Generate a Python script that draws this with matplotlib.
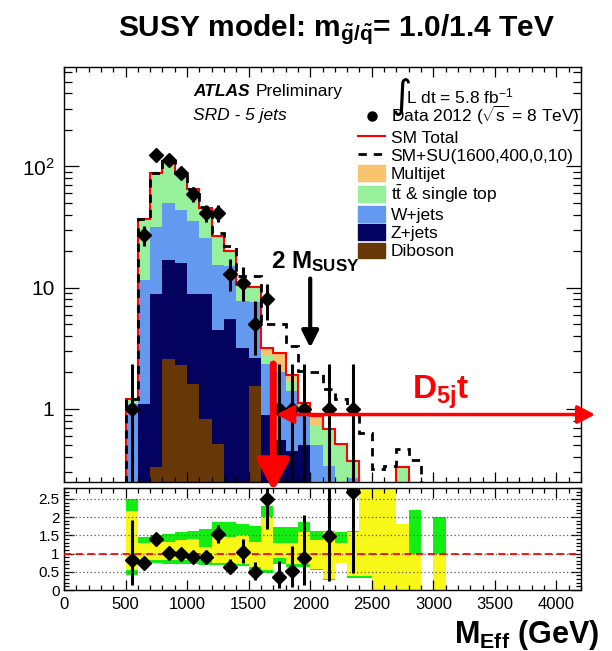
import numpy as np
import matplotlib
matplotlib.use("Agg")
import matplotlib.pyplot as plt
from matplotlib.lines import Line2D
from matplotlib.patches import Patch
from matplotlib.ticker import MultipleLocator, LogLocator, NullFormatter

plt.rcParams["font.family"] = ["Liberation Sans", "DejaVu Sans"]
plt.rcParams["mathtext.fontset"] = "custom"
plt.rcParams["mathtext.rm"] = "Liberation Sans"
plt.rcParams["mathtext.it"] = "Liberation Sans:italic"
plt.rcParams["mathtext.bf"] = "Liberation Sans:bold"

# M_eff bins (lower edges, GeV), 100 GeV wide
bin_low = [500, 600, 700, 800, 900, 1000, 1100, 1200, 1300, 1400, 1500, 1600, 1700,
           1800, 1900, 2000, 2100, 2200, 2300, 2400, 2500, 2600, 2700, 2800, 2900, 3000]
bin_width = 100

# background expectations per bin
diboson = [0, 0, 0.33, 2.6, 2.3, 1.6, 0.82, 0.51, 0, 0, 1.55, 0, 0.02,
           0.1, 0.05, 0, 0, 0, 0, 0, 0, 0, 0, 0, 0, 0]
zjets = [0, 1.1, 8.6, 14.4, 13.7, 7.3, 8.1, 4.0, 5.5, 3.2, 1.1, 0.9, 0.53,
         0.35, 0.45, 0.2, 0.12, 0.1, 0.12, 0, 0, 0, 0, 0, 0, 0]
wjets = [1.1, 10.5, 23, 33, 28, 26.4, 16.8, 11, 9.5, 4.5, 5.0, 1.45, 1.45,
         0.95, 0.45, 0.3, 0.22, 0.15, 0.15, 0.02, 0, 0, 0, 0, 0, 0]
ttbar = [0.12, 25.4, 57, 60, 45, 29, 20, 11, 5, 2.6, 2.4, 0.4, 0,
         0.3, 0.12, 0.22, 0.34, 0.26, 0.10, 0.02, 0.03, 0.03, 0.33, 0.15, 0, 0.08]
multijet = [0, 0, 0.1, 0, 0, 0.2, 0, 0.2, 0.2, 0.2, 0.15, 0.45, 0.9,
            0.22, 0.06, 0.16, 0, 0, 0, 0, 0, 0, 0, 0, 0, 0]

# SM + signal SU(1600,400,0,10)
sm_su = [1.22, 37, 89, 110, 89, 64.5, 46, 28.3, 22, 12.4, 12.4, 5.0, 5.0,
         3.3, 2.05, 2.0, 1.45, 1.2, 1.0, 0.63, 0.32, 0.34, 0.47, 0.38, 0.05, 0.08]

# data 2012 and its error bars
data = [1, 27, 125, 112, 89, 59, 41, 41, 13, 11, 5, 8, 1,
        1, 1, 0, 1, 0, 1, 0, 0, 0, 0, 0, 0, 0]
data_err_lo = [0.83, 5.0, 11, 10.5, 9.4, 7.7, 6.4, 6.4, 3.6, 3.3, 2.2, 2.6, 0.83,
               0.83, 0.83, 0, 0.83, 0, 0.83, 0, 0, 0, 0, 0, 0, 0]
data_err_hi = [1.33, 5.5, 11.5, 11, 9.9, 8.2, 6.9, 6.9, 4.1, 3.8, 2.7, 2.8, 1.33,
               1.33, 1.33, 0, 1.33, 0, 1.33, 0, 0, 0, 0, 0, 0, 0]

# uncertainty bands in the ratio panel
green_lo = [0.40, 0.74, 0.74, 0.72, 0.71, 0.71, 0.68, 0.68, 0.65, 0.65, 0.52, 0.47, 0.70,
            0.62, 0.62, 0.55, 0.28, 0.74, 0.32, 0.32, 0, 0, 0, 0, np.nan, 0]
green_hi = [2.50, 1.45, 1.50, 1.54, 1.59, 1.63, 1.68, 1.87, 1.87, 1.81, 1.77, 2.30, 1.72,
            1.72, 1.86, 1.62, 1.62, 1.60, 1.62, 3, 3, 3, 1.81, 2.19, np.nan, 2.0]
yellow_lo = [0.55, 0.83, 0.83, 0.82, 0.82, 0.83, 0.83, 0.74, 0.74, 0.72, 0.63, 0.56, 0.87,
             0.70, 0.71, 0.58, 0.30, 0.74, 0.38, 0.38, 0, 0, 0, 0, np.nan, 0]
yellow_hi = [2.17, 1.29, 1.32, 1.32, 1.36, 1.41, 1.19, 1.45, 1.45, 1.50, 1.32, 2.00, 1.28,
             1.28, 1.59, 1.37, 1.59, 1.30, 1.60, 3, 3, 3, 1.81, 1.0, np.nan, 1.0]

colors = {
    "Multijet": "#f9c46e",
    "ttbar": "#97f09a",
    "W+jets": "#6499f0",
    "Z+jets": "#03035f",
    "Diboson": "#673707",
}

edges = np.append(bin_low, bin_low[-1] + bin_width)
centers = np.array(bin_low) + bin_width / 2
floor = 1e-3

layers = [diboson, zjets, wjets, ttbar, multijet]
layer_colors = [colors["Diboson"], colors["Z+jets"], colors["W+jets"],
                colors["ttbar"], colors["Multijet"]]
cumulative = np.cumsum(np.array(layers, dtype=float), axis=0)
sm_total = cumulative[-1]

fig = plt.figure(figsize=(6.12, 6.51), dpi=100)
ax = fig.add_axes([0.1046, 0.2596, 0.8448, 0.6375])
rax = fig.add_axes([0.1046, 0.0937, 0.8448, 0.1567])

# stacked backgrounds, drawn from the top of the stack downwards
for cum, col in reversed(list(zip(cumulative, layer_colors))):
    ax.stairs(np.maximum(cum, floor), edges, baseline=floor, fill=True,
              color=col, lw=0, zorder=1)

ax.stairs(np.maximum(sm_total, floor), edges, baseline=floor, color="red",
          lw=1.5, zorder=3)
ax.stairs(np.maximum(sm_su, floor), edges, baseline=floor, color="black",
          lw=2.0, ls=(0, (3, 2.5)), zorder=4)

data = np.array(data, dtype=float)
has_data = data > 0
ax.errorbar(centers[has_data], data[has_data],
            yerr=[np.array(data_err_lo)[has_data], np.array(data_err_hi)[has_data]],
            fmt="D", color="black", ms=7, elinewidth=2.2, capsize=0, zorder=6)

ax.set_yscale("log")
ax.set_xlim(0, 4200)
ax.set_ylim(0.25, 660)
ax.set_yticks([1, 10, 100], labels=["1", "10", "10$^{2}$"])
ax.yaxis.set_minor_locator(LogLocator(base=10, subs=np.arange(2, 10)))
ax.yaxis.set_minor_formatter(NullFormatter())
ax.xaxis.set_major_locator(MultipleLocator(500))
ax.xaxis.set_minor_locator(MultipleLocator(100))
ax.tick_params(axis="x", which="both", labelbottom=False)

for a in (ax, rax):
    a.tick_params(which="both", direction="in", top=True, right=True, width=0.9)
    a.tick_params(axis="x", which="major", length=7)
    a.tick_params(axis="x", which="minor", length=3.5)
    for s in a.spines.values():
        s.set_linewidth(1.0)
ax.tick_params(axis="y", which="major", length=11, labelsize=15, pad=7)
ax.tick_params(axis="y", which="minor", length=5.5)

# ratio panel
sm_safe = np.where(sm_total > 0, sm_total, np.nan)
for lo, hi, col in [(green_lo, green_hi, "#12ee12"), (yellow_lo, yellow_hi, "#f8f818")]:
    lo = np.array(lo, dtype=float)
    hi = np.array(hi, dtype=float)
    ok = ~np.isnan(lo)
    rax.bar(np.array(bin_low)[ok], (hi - lo)[ok], bottom=lo[ok], width=bin_width,
            align="edge", color=col, lw=0, zorder=1)

for yv in [0.5, 1.0, 1.5, 2.0, 2.5]:
    rax.axhline(yv, color="#555555", lw=0.9, ls=(0, (1, 2)), zorder=2)
rax.axhline(1.0, color="red", lw=1.3, ls=(0, (4, 2.5)), zorder=3)

ratio = data / sm_safe
rax.errorbar(centers[has_data], ratio[has_data],
             yerr=[(np.array(data_err_lo) / sm_safe)[has_data],
                   (np.array(data_err_hi) / sm_safe)[has_data]],
             fmt="D", color="black", ms=7, elinewidth=2.2, capsize=0, zorder=5)

rax.set_xlim(0, 4200)
rax.set_ylim(0, 2.8)
rax.set_yticks([0, 0.5, 1, 1.5, 2, 2.5], labels=["0", "0.5", "1", "1.5", "2", "2.5"])
rax.yaxis.set_minor_locator(MultipleLocator(0.1))
rax.xaxis.set_major_locator(MultipleLocator(500))
rax.xaxis.set_minor_locator(MultipleLocator(100))
rax.tick_params(axis="y", which="major", length=7, labelsize=11, pad=3)
rax.tick_params(axis="y", which="minor", length=3.5)
rax.tick_params(axis="x", which="major", labelsize=12, pad=5)

# labels inside the main panel
ax.text(0.2495, 0.94, "ATLAS", transform=ax.transAxes, fontsize=12.5,
        fontweight="bold", style="italic", va="center")
ax.text(0.371, 0.94, "Preliminary", transform=ax.transAxes, fontsize=12.5, va="center")
ax.text(0.2495, 0.884, "SRD - 5 jets", transform=ax.transAxes, fontsize=12.5,
        style="italic", va="center")
ax.text(0.634, 0.927, "\u222b", transform=ax.transAxes, fontsize=28, va="center",
        family="DejaVu Sans")
ax.text(0.662, 0.93, "L dt = 5.8 fb$^{-1}$", transform=ax.transAxes, fontsize=12.5,
        va="center")

handles = [
    Line2D([], [], marker="o", color="black", ls="none", ms=6.5),
    Line2D([], [], color="red", lw=1.5),
    Line2D([], [], color="black", lw=2.0, ls=(0, (3, 2.5))),
    Patch(color=colors["Multijet"]),
    Patch(color=colors["ttbar"]),
    Patch(color=colors["W+jets"]),
    Patch(color=colors["Z+jets"]),
    Patch(color=colors["Diboson"]),
]
labels = [
    r"Data 2012 ($\sqrt{\mathrm{s}}$ = 8 TeV)",
    "SM Total",
    "SM+SU(1600,400,0,10)",
    "Multijet",
    r"t$\bar{\mathrm{t}}$ & single top",
    "W+jets",
    "Z+jets",
    "Diboson",
]
ax.legend(handles, labels, loc="upper left", bbox_to_anchor=(0.568, 0.91),
          frameon=False, fontsize=12.5, labelspacing=0.085, handlelength=1.6,
          handleheight=1.0, handletextpad=0.3, borderpad=0, borderaxespad=0)

# 2 M_SUSY marker
ax.text(1680, 16.5, r"2 M$_{\mathbf{SUSY}}$", fontsize=17.5, fontweight="bold",
        va="center")
ax.annotate("", xy=(2000, 3.2), xytext=(2000, 11.9),
            arrowprops=dict(arrowstyle="-|>,head_length=1.0,head_width=0.5",
                            color="black", lw=3, shrinkA=0, shrinkB=0), zorder=7)

# D5jt cut and signal region
ax.annotate("", xy=(1700, -0.022), xycoords=("data", "axes fraction"),
            xytext=(1700, 2.35), textcoords="data", annotation_clip=False,
            arrowprops=dict(arrowstyle="-|>,head_length=1.8,head_width=0.95",
                            color="red", lw=5, shrinkA=0, shrinkB=0), zorder=8)
ax.annotate("", xy=(1.027, 0.9), xycoords=("axes fraction", "data"),
            xytext=(1725, 0.9), textcoords="data", annotation_clip=False,
            arrowprops=dict(arrowstyle="<|-|>,head_length=1.05,head_width=0.55",
                            color="red", lw=2.5, shrinkA=0, shrinkB=0), zorder=8)
ax.text(2830, 1.21, r"D$_{\mathbf{5j}}$t", fontsize=24, fontweight="bold",
        color="red", va="baseline")

fig.text(0.193, 0.955, r"SUSY model: m$_{\mathbf{\tilde{g}/\tilde{q}}}$= 1.0/1.4 TeV",
         fontsize=21.5, fontweight="bold", va="center")
fig.text(0.98, 0.025, r"M$_{\mathbf{Eff}}$ (GeV)", fontsize=22, fontweight="bold",
         ha="right", va="center")

fig.savefig("out.png", dpi=100)
